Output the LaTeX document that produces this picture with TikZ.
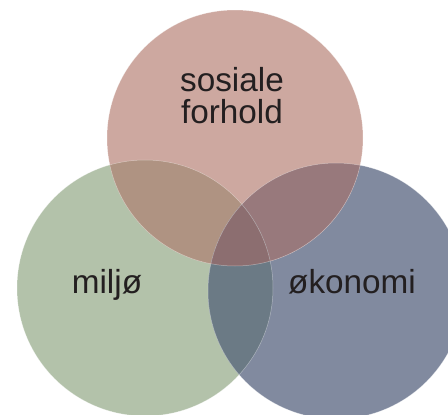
\documentclass[tikz,border=0pt]{standalone}
\usepackage{fontspec}
\setmainfont{Liberation Sans}
\definecolor{cTop}{HTML}{CDA8A0}
\definecolor{cLeft}{HTML}{B3C2AA}
\definecolor{cRight}{HTML}{818A9F}
\definecolor{cTL}{HTML}{AF9382}
\definecolor{cTR}{HTML}{98797C}
\definecolor{cLR}{HTML}{6B7A85}
\definecolor{cMid}{HTML}{8C6E70}
\definecolor{cText}{HTML}{231F20}
\tikzset{
  lbl/.style={text=cText, font=\fontsize{33.3}{32}\selectfont, inner sep=0pt},
  rim/.style={draw=white, draw opacity=0.4, line width=0.5pt}
}
\begin{document}
\begin{tikzpicture}[x=1pt,y=-1pt]
\useasboundingbox (0,0) rectangle (448,415);
\coordinate (T) at (235,138);
\coordinate (L) at (145,288);
\coordinate (R) at (336,291);
\fill[cLeft] (L) circle[radius=128pt];
\fill[cRight] (R) circle[radius=128pt];
\fill[cTop] (T) circle[radius=128pt];
\begin{scope}
  \clip (T) circle[radius=128pt];
  \fill[cTL] (L) circle[radius=128pt];
  \fill[cTR] (R) circle[radius=128pt];
\end{scope}
\begin{scope}
  \clip (L) circle[radius=128pt];
  \fill[cLR] (R) circle[radius=128pt];
\end{scope}
\begin{scope}
  \clip (T) circle[radius=128pt];
  \clip (L) circle[radius=128pt];
  \fill[cMid] (R) circle[radius=128pt];
\end{scope}
\path[rim] (L) circle[radius=128pt];
\path[rim] (R) circle[radius=128pt];
\path[rim] (T) circle[radius=128pt];
\node[lbl, align=center, anchor=south] (sos) at (232,124) {sosiale\\forhold};
\node[lbl, anchor=base] (mil) at (107,293) {miljø};
\node[lbl, anchor=base] (oko) at (352,293) {økonomi};
\end{tikzpicture}
\end{document}
